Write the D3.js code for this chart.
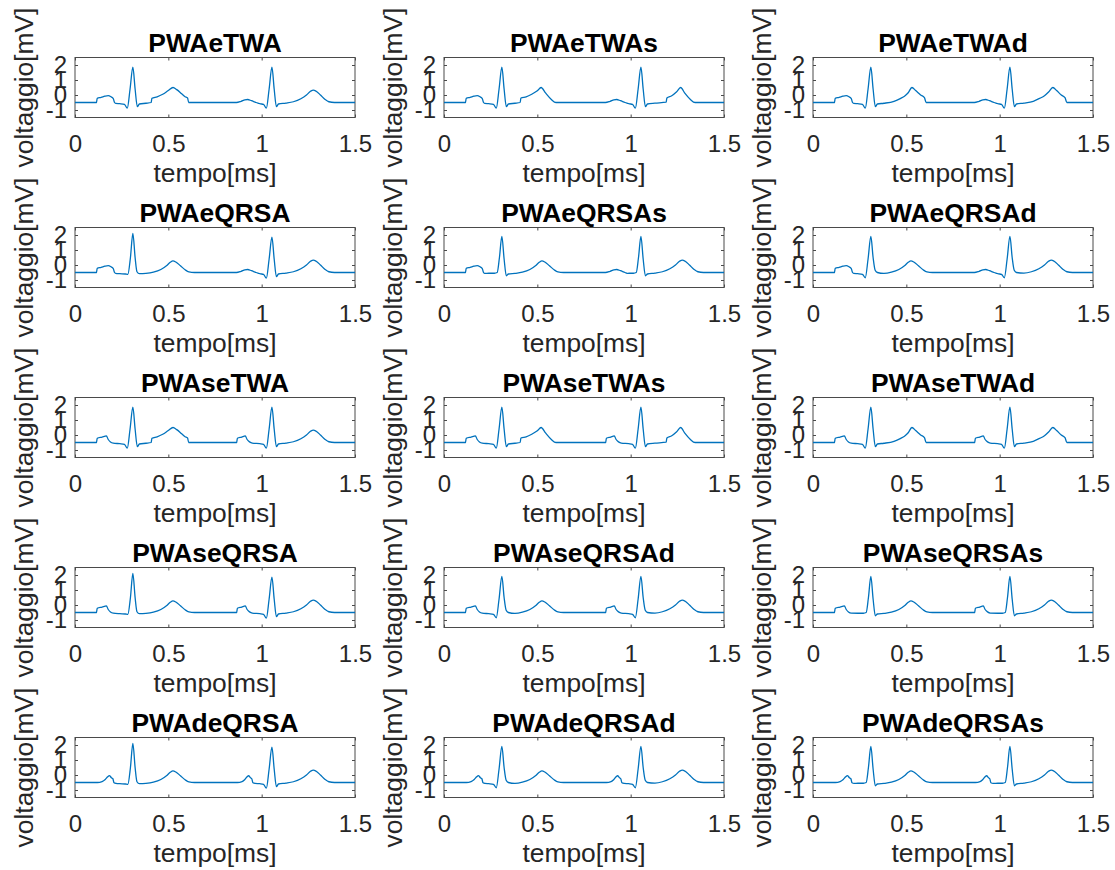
<!DOCTYPE html>
<html>
<head>
<meta charset="utf-8">
<script src="https://cdn.jsdelivr.net/npm/d3@7"></script>
<style>
  body { margin: 0; background: #fff; }
  text { font-family: "Liberation Sans", Arial, Helvetica, sans-serif; }
</style>
</head>
<body>
<svg id="chart" width="1115" height="870"></svg>
<script>
// tick values
const xTicks = [0, 0.5, 1, 1.5];
const yTicks = [-1, 0, 1, 2];

// flat start / end of every trace [t, mV]
const startPt = [[0, -0.5]];
const endPt = [[1.5, -0.5]];

// P waves
const pStep1 = [[0.115, -0.5], [0.119, -0.22], [0.14, -0.16], [0.16, -0.08], [0.178, -0.04], [0.193, -0.12], [0.205, -0.24], [0.212, -0.5], [0.218, -0.56]];
const pNorm2 = [[0.865, -0.5], [0.89, -0.42], [0.91, -0.33], [0.925, -0.3], [0.945, -0.38], [0.97, -0.5], [0.985, -0.56]];
const pLeft1 = [[0.115, -0.5], [0.119, -0.22], [0.145, -0.14], [0.168, -0.06], [0.178, -0.3], [0.19, -0.46], [0.205, -0.54]];
const pLeft2 = [[0.866, -0.5], [0.87, -0.22], [0.893, -0.14], [0.912, -0.06], [0.922, -0.3], [0.935, -0.46], [0.95, -0.54]];
const pRight1 = [[0.12, -0.5], [0.145, -0.44], [0.162, -0.3], [0.175, -0.12], [0.184, -0.04], [0.195, -0.18], [0.203, -0.25], [0.209, -0.52], [0.22, -0.56]];
const pRight2 = [[0.87, -0.5], [0.895, -0.44], [0.91, -0.3], [0.922, -0.12], [0.93, -0.05], [0.94, -0.18], [0.947, -0.25], [0.953, -0.52], [0.965, -0.56]];

// QRS complexes
const qrsNorm1 = [[0.24, -0.58], [0.265, -0.62], [0.28, -0.88], [0.295, 0.4], [0.31, 1.85], [0.322, 0.4], [0.334, -0.78], [0.345, -0.6]];
const qrsNorm2 = [[0.99, -0.58], [1.01, -0.62], [1.025, -0.88], [1.04, 0.4], [1.055, 1.85], [1.067, 0.4], [1.079, -0.78], [1.09, -0.6]];
const qrsTall1 = [[0.24, -0.58], [0.27, -0.6], [0.283, -0.62], [0.297, 0.5], [0.31, 2.1], [0.322, 0.5], [0.332, -0.45], [0.345, -0.58]];
const qrsNoQ1 = [[0.24, -0.55], [0.27, -0.55], [0.285, -0.5], [0.297, 0.5], [0.31, 1.9], [0.322, 0.4], [0.334, -0.72], [0.345, -0.6]];
const qrsNoQ2 = [[0.99, -0.55], [1.015, -0.55], [1.03, -0.5], [1.042, 0.5], [1.055, 1.9], [1.067, 0.4], [1.079, -0.72], [1.09, -0.6]];
const qrsNoS1 = [[0.24, -0.58], [0.265, -0.62], [0.28, -0.85], [0.295, 0.4], [0.31, 1.9], [0.322, 0.5], [0.333, -0.35], [0.345, -0.5]];
const qrsNoS2 = [[0.99, -0.58], [1.01, -0.62], [1.025, -0.85], [1.04, 0.4], [1.055, 1.9], [1.067, 0.5], [1.078, -0.35], [1.09, -0.5]];

// T waves
const tNorm1 = [[0.38, -0.56], [0.42, -0.48], [0.46, -0.3], [0.49, -0.05], [0.51, 0.18], [0.525, 0.28], [0.54, 0.2], [0.565, -0.05], [0.59, -0.32], [0.61, -0.46], [0.64, -0.5]];
const tNorm2 = [[1.13, -0.54], [1.17, -0.45], [1.21, -0.25], [1.24, 0.0], [1.262, 0.25], [1.277, 0.33], [1.292, 0.25], [1.315, 0.0], [1.34, -0.3], [1.36, -0.45], [1.39, -0.5]];
const tStep1 = [[0.38, -0.55], [0.408, -0.5], [0.412, -0.22], [0.44, -0.12], [0.47, 0.05], [0.5, 0.3], [0.525, 0.5], [0.545, 0.36], [0.57, 0.1], [0.59, -0.12], [0.603, -0.2], [0.609, -0.5], [0.64, -0.5]];
const tLeft1 = [[0.38, -0.55], [0.408, -0.5], [0.412, -0.2], [0.44, -0.12], [0.47, 0.05], [0.5, 0.28], [0.52, 0.5], [0.545, 0.12], [0.575, -0.3], [0.6, -0.5]];
const tLeft2 = [[1.13, -0.54], [1.19, -0.48], [1.194, -0.2], [1.22, -0.05], [1.245, 0.2], [1.268, 0.5], [1.29, 0.12], [1.32, -0.3], [1.345, -0.5]];
const tRight1 = [[0.38, -0.55], [0.434, -0.42], [0.47, -0.22], [0.49, -0.08], [0.51, 0.15], [0.53, 0.5], [0.55, 0.3], [0.575, 0.02], [0.597, -0.18], [0.606, -0.5], [0.64, -0.5]];
const tRight2 = [[1.13, -0.54], [1.18, -0.42], [1.215, -0.22], [1.24, -0.05], [1.262, 0.2], [1.285, 0.5], [1.305, 0.3], [1.33, 0.0], [1.35, -0.18], [1.36, -0.5], [1.39, -0.5]];

// panels, row by row
const panels = [
  { title: "PWAeTWA", parts: [pStep1, qrsNorm1, tStep1, pNorm2, qrsNorm2, tNorm2] },
  { title: "PWAeTWAs", parts: [pStep1, qrsNorm1, tLeft1, pNorm2, qrsNorm2, tLeft2] },
  { title: "PWAeTWAd", parts: [pStep1, qrsNorm1, tRight1, pNorm2, qrsNorm2, tRight2] },
  { title: "PWAeQRSA", parts: [pStep1, qrsTall1, tNorm1, pNorm2, qrsNorm2, tNorm2] },
  { title: "PWAeQRSAs", parts: [pStep1, qrsNoQ1, tNorm1, pNorm2, qrsNoQ2, tNorm2] },
  { title: "PWAeQRSAd", parts: [pStep1, qrsNoS1, tNorm1, pNorm2, qrsNoS2, tNorm2] },
  { title: "PWAseTWA", parts: [pLeft1, qrsNorm1, tStep1, pLeft2, qrsNorm2, tNorm2] },
  { title: "PWAseTWAs", parts: [pLeft1, qrsNorm1, tLeft1, pLeft2, qrsNorm2, tLeft2] },
  { title: "PWAseTWAd", parts: [pLeft1, qrsNorm1, tRight1, pLeft2, qrsNorm2, tRight2] },
  { title: "PWAseQRSA", parts: [pLeft1, qrsTall1, tNorm1, pLeft2, qrsNorm2, tNorm2] },
  { title: "PWAseQRSAd", parts: [pLeft1, qrsNoS1, tNorm1, pLeft2, qrsNoS2, tNorm2] },
  { title: "PWAseQRSAs", parts: [pLeft1, qrsNoQ1, tNorm1, pLeft2, qrsNoQ2, tNorm2] },
  { title: "PWAdeQRSA", parts: [pRight1, qrsTall1, tNorm1, pRight2, qrsNorm2, tNorm2] },
  { title: "PWAdeQRSAd", parts: [pRight1, qrsNoS1, tNorm1, pRight2, qrsNoS2, tNorm2] },
  { title: "PWAdeQRSAs", parts: [pRight1, qrsNoQ1, tNorm1, pRight2, qrsNoQ2, tNorm2] }
];

var svg = d3.select("#chart"),
    width = 280,
    height = 60,
    left0 = 75, top0 = 57.5,
    colStep = 369, rowStep = 170,
    axisColor = "#4a4a4a",
    textColor = "#262626";

svg.append("rect").attr("width", 1115).attr("height", 870).attr("fill", "#fff");

var x = d3.scaleLinear().domain([0, 1.5]).range([0, width]);
var y = d3.scaleLinear().domain([-1.5, 2.5]).range([height, 0]);

var line = d3.line()
    .x(d => x(d[0]))
    .y(d => y(d[1]))
    .curve(d3.curveMonotoneX);

panels.forEach(function (p, i) {
    var col = i % 3, row = Math.floor(i / 3);
    var g = svg.append("g")
        .attr("transform", "translate(" + (left0 + col * colStep) + "," + (top0 + row * rowStep) + ")");

    // bottom axis with labels
    var xa = g.append("g")
        .attr("transform", "translate(0," + height + ")")
        .call(d3.axisBottom(x).tickValues(xTicks).tickSize(-3).tickPadding(17).tickFormat(d => String(d)));
    // left axis with labels
    var ya = g.append("g")
        .call(d3.axisLeft(y).tickValues(yTicks).tickSize(-3).tickPadding(8).tickFormat(d => String(d)));
    // top / right ticks only
    var ta = g.append("g")
        .call(d3.axisTop(x).tickValues(xTicks).tickSize(-3).tickFormat(""));
    var ra = g.append("g")
        .attr("transform", "translate(" + width + ",0)")
        .call(d3.axisRight(y).tickValues(yTicks).tickSize(-3).tickFormat(""));

    [xa, ya, ta, ra].forEach(function (a) {
        a.select(".domain").remove();
        a.selectAll(".tick line").attr("stroke", axisColor);
        a.selectAll(".tick text")
            .attr("fill", textColor)
            .attr("font-size", 24)
            .attr("font-family", '"Liberation Sans", Arial, Helvetica, sans-serif');
    });

    g.append("rect")
        .attr("width", width)
        .attr("height", height)
        .attr("fill", "none")
        .attr("stroke", axisColor)
        .attr("stroke-width", 1);

    var pts = startPt.concat(...p.parts, endPt);
    g.append("path")
        .datum(pts)
        .attr("fill", "none")
        .attr("stroke", "#0072BD")
        .attr("stroke-width", 1.3)
        .attr("d", line);

    g.append("text")
        .attr("x", width / 2)
        .attr("y", -6)
        .attr("text-anchor", "middle")
        .attr("font-size", 26.4)
        .attr("font-weight", "bold")
        .attr("fill", "#000")
        .text(p.title);

    g.append("text")
        .attr("x", width / 2)
        .attr("y", height + 64)
        .attr("text-anchor", "middle")
        .attr("font-size", 26.4)
        .attr("fill", textColor)
        .text("tempo[ms]");

    g.append("text")
        .attr("transform", "translate(-42," + (height / 2) + ") rotate(-90)")
        .attr("text-anchor", "middle")
        .attr("font-size", 26.4)
        .attr("fill", textColor)
        .text("voltaggio[mV]");
});
</script>
</body>
</html>
